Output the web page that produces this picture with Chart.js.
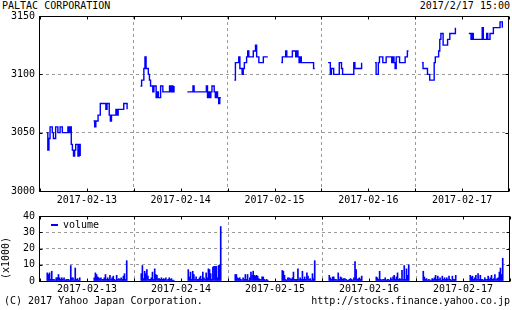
<!DOCTYPE html>
<html>
<head>
<meta charset="utf-8">
<script src="https://cdn.jsdelivr.net/npm/chart.js@4.4.1/dist/chart.umd.min.js"></script>
<style>
  body { margin: 0; background: #fff; }
  #wrap { position: relative; width: 512px; height: 310px; overflow: hidden;
          font-family: "DejaVu Sans Mono", monospace; font-size: 10px; color: #000; }
  canvas { position: absolute; left: 0; }
  .t { position: absolute; white-space: pre; line-height: 10px; }
</style>
</head>
<body>
<div id="wrap">
  <div class="t" style="left:2px;top:1px">PALTAC CORPORATION</div>
  <div class="t" style="right:2px;top:1px">2017/2/17 15:00</div>
  <canvas id="price-canvas" width="512" height="206" style="top:0"></canvas>
  <canvas id="volume-canvas" width="512" height="100" style="top:200px"></canvas>
  <div style="position:absolute;left:51px;top:224px;width:7px;height:2px;background:#0000ff"></div>
  <div class="t" style="left:63px;top:220px">volume</div>
  <div class="t" style="left:-15px;top:253px;width:42px;transform:rotate(-90deg)">(x1000)</div>
  <div class="t" style="left:4px;top:296px">(C) 2017 Yahoo Japan Corporation.</div>
  <div class="t" style="right:2px;top:296px">http://stocks.finance.yahoo.co.jp</div>
</div>
<script>
// dates shown under both panels
const days = ["2017-02-13", "2017-02-14", "2017-02-15", "2017-02-16", "2017-02-17"];

// price every 5 min, 9:00-11:30 and 12:30-15:00 (last value = session close)
const price13am = [3050,3035,3045,3055,3055,3050,3045,3045,3055,3055,3050,3050,3055,3055,3050,3050,3050,3050,3050,3055,3050,3055,3040,3035,3030,3035,3040,3040,3030,3040,3030];
const price13pm = [3060,3055,3060,3060,3065,3065,3075,3075,3075,3075,3075,3070,3075,3075,3065,3060,3065,3065,3065,3065,3070,3065,3070,3070,3070,3070,3070,3075,3075,3075,3070];
const price14am = [3090,3095,3095,3105,3115,3105,3105,3100,3095,3090,3090,3085,3090,3090,3080,3085,3080,3080,3090,3090,3085,3085,3085,3085,3085,3085,3090,3085,3090,3085,3090];
const price14pm = [3085,3085,3085,3085,3085,3090,3085,3085,3085,3085,3085,3085,3085,3085,3085,3085,3085,3090,3080,3085,3080,3085,3090,3090,3085,3080,3085,3080,3075,3080,3080];
const price15am = [3095,3110,3110,3110,3115,3105,3105,3100,3105,3110,3110,3115,3120,3115,3115,3115,3115,3120,3120,3125,3115,3115,3110,3110,3110,3110,3115,3115,3115,3115,3115];
const price15pm = [3110,3115,3115,3115,3120,3115,3115,3115,3115,3115,3120,3120,3120,3115,3120,3115,3110,3115,3110,3110,3110,3110,3110,3110,3110,3110,3110,3110,3110,3105,3105];
const price16am = [3110,3110,3100,3105,3105,3100,3100,3100,3100,3100,3110,3110,3105,3100,3100,3100,3100,3100,3100,3100,3100,3100,3100,3110,3105,3105,3105,3105,3105,3105,3110];
const price16pm = [3110,3100,3100,3110,3115,3115,3115,3110,3110,3110,3115,3115,3115,3115,3115,3110,3115,3110,3105,3115,3115,3115,3110,3110,3110,3110,3110,3115,3115,3120,3120];
const price17am = [3110,3105,3105,3105,3105,3100,3100,3095,3095,3095,3095,3110,3115,3115,3115,3120,3130,3135,3135,3125,3125,3125,3125,3130,3130,3135,3135,3135,3135,3135,3140];
const price17pm = [3135,3135,3130,3135,3130,3130,3130,3130,3130,3130,3130,3130,3140,3130,3130,3130,3135,3130,3130,3135,3135,3135,3140,3140,3140,3140,3140,3140,3145,3145,3140];

// volume per 5 min (x1000)
const vol13am = [5,4,5,1,6,1,1,0.5,2,2,4,2,1,2,1,2,0.5,1,1,1,0.5,9.5,2,2,0.5,8,1,1.5,0.5,2];
const vol13pm = [2,5,4,2.5,2,1.5,2,1,1,2,4,1,2,1,3.5,1,2,3,1,0.5,3.5,1,1.5,1,2,1,3,4.5,1,12.5];
const vol14am = [4.5,9.5,1.5,6,4.5,7,3,1,1,2,5.5,1,7.5,4,3.5,1.5,1.5,1,2,1,1.5,1,2,0.5,1,2,1,1.5,0.5,0.5];
const vol14pm = [7,2.5,5.5,1,6,4,1,2.5,1,1,2,3,1,5.5,2,1,5,2,7.5,7,4.5,1,8.5,9,9,9,2,9.5,10,33.5];
const vol15am = [4,4,2,1.5,2,1,0.5,2,1,4,1,4,0.5,2,5.5,3.5,6,3.5,3,3.5,3,1.5,1,1,2.5,2.5,1,0.5,1,0.5];
const vol15pm = [6.5,6,3.5,1,0.5,2,2,1.5,1,2,5.5,1,1,1,7.5,1,2,1,6,1,2.5,1,5,3,1,1.5,0.5,4.5,1.5,12.5];
const vol16am = [3.5,2,1,2.5,2.5,1,1,0.5,5,1,2.5,2,1,1.5,1.5,1,0.5,0.5,1,1.5,1,0.5,2,12,7,1,1.5,2,1,3];
const vol16pm = [2.5,2,1,6,1,0.5,1,1,2,0.5,1,1,0.5,2,1,2.5,3.5,1,2.5,5,1,1.5,1,6.5,1,9.5,1,7.5,3.5,10];
const vol17am = [6,2.5,1,1.5,0.5,1,0.5,0.5,1.5,1,2,3.5,1,3,1,2,0.5,3,1,2,1,2,1,3,1,0.5,3,1,1,3.5];
const vol17pm = [3.5,2.5,3,1,2,3.5,1,4.5,1,3.5,1,1,0.5,2,1,1,3,1,2,3.5,1,1.5,4,1,1.5,2,5.5,8,4,14];

const priceTicks = [3000, 3050, 3100, 3150];
const volumeTicks = [0, 10, 20, 30, 40];

// x axis is minutes: each day runs 8:30-15:30 (420 min)
const DAY = 420;
const priceSessions = [[price13am, price13pm], [price14am, price14pm], [price15am, price15pm], [price16am, price16pm], [price17am, price17pm]];
const volSessions = [[vol13am, vol13pm], [vol14am, vol14pm], [vol15am, vol15pm], [vol16am, vol16pm], [vol17am, vol17pm]];

const pricePoints = [];
priceSessions.forEach((pair, d) => pair.forEach((vals, s) => {
  const start = d * DAY + 30 + s * 210;
  vals.forEach((v, i) => pricePoints.push({ x: start + i * 5, y: v }));
  pricePoints.push({ x: start + 152, y: null });
}));

const volPoints = [];
volSessions.forEach((pair, d) => pair.forEach((vals, s) => {
  const start = d * DAY + 30 + s * 210;
  vals.forEach((v, i) => volPoints.push({ x: start + i * 5 + 2.5, y: v }));
}));

Chart.defaults.font.family = "DejaVu Sans Mono";
Chart.defaults.font.size = 10;
Chart.defaults.color = "#000";

// box around the plot with small inward ticks
const frame = {
  id: "frame",
  afterDraw(chart) {
    const { ctx, chartArea: a, scales } = chart;
    const l = Math.round(a.left) - 0.5, r = Math.round(a.right) - 0.5;
    const t = Math.round(a.top) + 0.5, b = Math.round(a.bottom) + 0.5;
    ctx.save();
    ctx.strokeStyle = "#000";
    ctx.lineWidth = 1;
    ctx.strokeRect(l, t, r - l, b - t);
    ctx.beginPath();
    scales.x.ticks.forEach((tk) => {
      const x = Math.round(scales.x.getPixelForValue(tk.value)) + 0.5;
      ctx.moveTo(x, t); ctx.lineTo(x, t + 3);
      ctx.moveTo(x, b); ctx.lineTo(x, b - 3);
    });
    scales.y.ticks.forEach((tk) => {
      const y = Math.round(scales.y.getPixelForValue(tk.value)) + 0.5;
      ctx.moveTo(l, y); ctx.lineTo(l + 3, y);
      ctx.moveTo(r, y); ctx.lineTo(r - 3, y);
    });
    ctx.stroke();
    ctx.restore();
  },
};

const gridGray = "#9a9a9a";

function timeAxis(labelPad, height) {
  return {
    type: "linear",
    min: 0,
    max: DAY * days.length,
    offset: false,
    afterBuildTicks: (s) => {
      s.ticks = [];
      for (let v = 0; v <= DAY * days.length; v += DAY / 2) s.ticks.push({ value: v });
    },
    afterFit: (s) => { s.height = height; },
    ticks: {
      autoSkip: false,
      maxRotation: 0,
      padding: labelPad,
      callback: (v) => (v % DAY === DAY / 2 ? days[(v - DAY / 2) / DAY] : ""),
    },
    grid: {
      offset: false,
      drawTicks: false,
      color: (c) => (c.tick && c.tick.value % DAY === 0 && c.tick.value > 0 && c.tick.value < DAY * days.length ? gridGray : "rgba(0,0,0,0)"),
    },
    border: { display: false, dash: [3, 3] },
  };
}

function valueAxis(min, max, ticks) {
  return {
    min: min,
    max: max,
    afterBuildTicks: (s) => { s.ticks = ticks.map((v) => ({ value: v })); },
    afterFit: (s) => { s.width = 40; },
    ticks: { padding: 5, callback: (v) => String(v) },
    grid: {
      drawTicks: false,
      color: (c) => (c.tick && c.tick.value > min && c.tick.value < max ? gridGray : "rgba(0,0,0,0)"),
    },
    border: { display: false, dash: [3, 3] },
  };
}

new Chart(document.getElementById("price-canvas").getContext("2d"), {
  type: "line",
  data: {
    datasets: [{
      label: "price",
      data: pricePoints,
      borderColor: "#0000ff",
      borderWidth: 1.4,
      stepped: "before",
      pointRadius: 0,
      spanGaps: false,
    }],
  },
  options: {
    responsive: false,
    animation: false,
    devicePixelRatio: 1,
    layout: { padding: { top: 16, right: 1, left: 0, bottom: 0 } },
    plugins: { legend: { display: false }, tooltip: { enabled: false } },
    scales: {
      x: timeAxis(3, 15),
      y: valueAxis(3000, 3150, priceTicks),
    },
  },
  plugins: [frame],
});

new Chart(document.getElementById("volume-canvas").getContext("2d"), {
  type: "bar",
  data: {
    datasets: [{
      label: "volume",
      data: volPoints,
      backgroundColor: "#0000ff",
      barThickness: 1,
    }],
  },
  options: {
    responsive: false,
    animation: false,
    devicePixelRatio: 1,
    layout: { padding: { top: 16, right: 1, left: 0, bottom: 0 } },
    plugins: { legend: { display: false }, tooltip: { enabled: false } },
    scales: {
      x: timeAxis(2, 19),
      y: valueAxis(0, 40, volumeTicks),
    },
  },
  plugins: [frame],
});
</script>
</body>
</html>
